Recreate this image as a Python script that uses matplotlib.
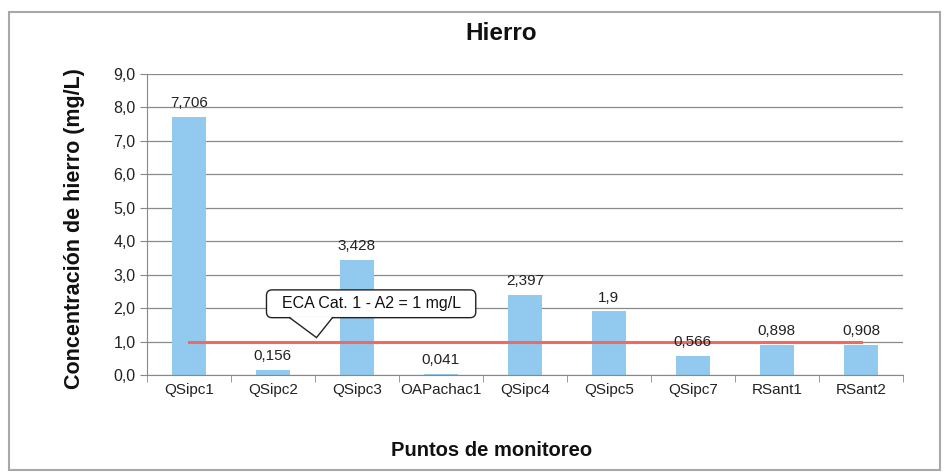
import matplotlib
matplotlib.use("Agg")
import matplotlib.pyplot as plt
from matplotlib.patches import Rectangle, Polygon
import numpy as np

categories = ["QSipc1", "QSipc2", "QSipc3", "OAPachac1", "QSipc4", "QSipc5", "QSipc7", "RSant1", "RSant2"]
values = [7.706, 0.156, 3.428, 0.041, 2.397, 1.9, 0.566, 0.898, 0.908]
value_labels = ["7,706", "0,156", "3,428", "0,041", "2,397", "1,9", "0,566", "0,898", "0,908"]
eca_limit = 1.0
eca_text = "ECA Cat. 1 - A2 = 1 mg/L"
yticks = [0, 1, 2, 3, 4, 5, 6, 7, 8, 9]

plt.rcParams['font.family'] = ['Liberation Sans', 'DejaVu Sans']

fig = plt.figure(figsize=(9.47, 4.76), dpi=100)
ax = fig.add_axes([0.155, 0.212, 0.7985, 0.633])

x = np.arange(len(categories))
bar_color = "#92c9ee"
ax.bar(x, values, width=0.4, color=bar_color, zorder=2)

ax.plot([x[0], x[-1]], [eca_limit, eca_limit], color="#ee6a62", lw=2.2, zorder=3)

for xi, v, lab in zip(x, values, value_labels):
    ax.annotate(lab, (xi, v), xytext=(0, 5), textcoords="offset points",
                ha="center", va="bottom", fontsize=11, color="#222222", zorder=4)

ax.set_xlim(-0.5, len(categories) - 0.5)
ax.set_ylim(0, 9)
ax.set_yticks(yticks)
ax.set_yticklabels([f"{t:.1f}".replace(".", ",") for t in yticks], fontsize=11.5, color="#222222")
ax.yaxis.grid(True, color="#8a8a8a", lw=0.9, zorder=0)
ax.set_axisbelow(True)

ax.set_xticks(x)
ax.set_xticklabels(categories, fontsize=11, color="#222222")
ax.tick_params(axis="x", length=0, pad=6)
ax.set_xticks(np.arange(-0.5, len(categories), 1.0), minor=True)
ax.tick_params(axis="x", which="minor", length=5, color="#888888")
ax.tick_params(axis="y", length=5, color="#888888", pad=3)

for side in ["top", "right"]:
    ax.spines[side].set_visible(False)
ax.spines["left"].set_color("#888888")
ax.spines["bottom"].set_color("#888888")

# callout
box_cx, box_cy = 2.17, 2.13
ax.text(box_cx, box_cy, "  " + eca_text + "  ", ha="center", va="center", fontsize=11.5, color="#111111",
        bbox=dict(boxstyle="round,pad=0.4,rounding_size=0.35", fc="white", ec="#222222", lw=1.0),
        zorder=6)
fig.canvas.draw()
bb = ax.texts[-1].get_bbox_patch().get_window_extent()
inv = ax.transData.inverted()
_, ybot = inv.transform((0, bb.y0))
base_l, base_r, tip = 1.2, 1.71, (1.52, 1.12)
ax.add_patch(Polygon([(base_l, ybot + 0.03), tip, (base_r, ybot + 0.03)], closed=False,
                     fc="white", ec="none", zorder=7))
ax.plot([base_l, tip[0], base_r], [ybot, tip[1], ybot], color="#222222", lw=1.0, zorder=8,
        solid_joinstyle="miter")

fig.text(0.529, 0.93, "Hierro", ha="center", va="center", fontsize=17.5, fontweight="bold", color="#111111")
fig.text(0.519, 0.053, "Puntos de monitoreo", ha="center", va="center", fontsize=14.5,
         fontweight="bold", color="#111111")
fig.text(0.079, 0.52, "Concentración de hierro (mg/L)", ha="center", va="center", rotation=90,
         fontsize=15.5, fontweight="bold", color="#111111")

fig.patches.append(Rectangle((0.009, 0.012), 0.984, 0.962, transform=fig.transFigure,
                             fill=False, ec="#a8a8a8", lw=1.5))

fig.savefig("out.png", dpi=100)
